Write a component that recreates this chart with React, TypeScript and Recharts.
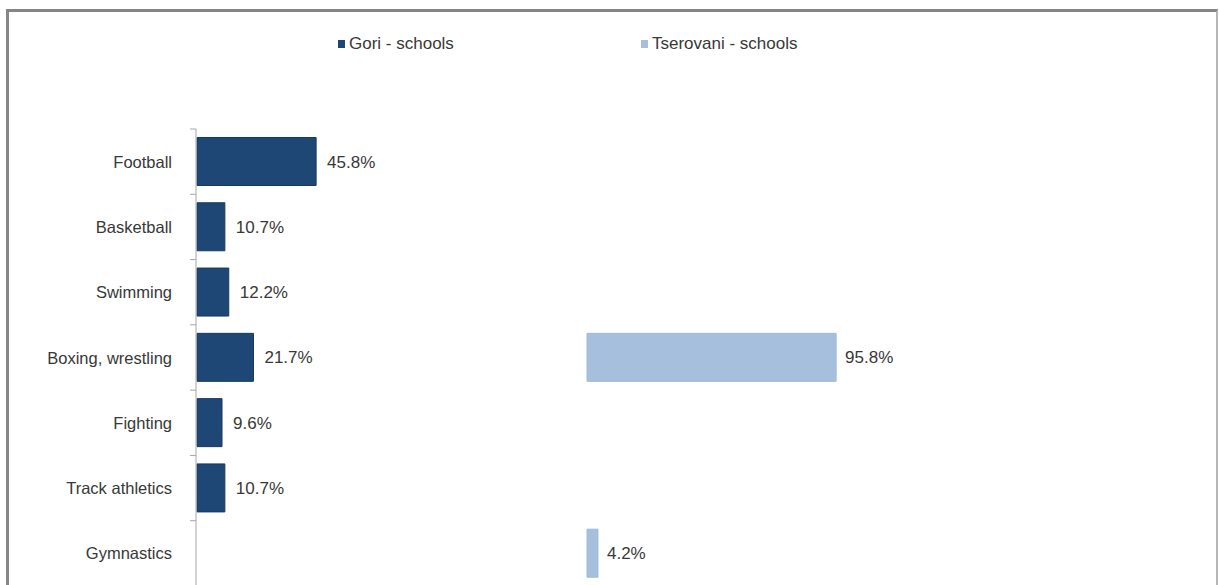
import React from "react";
import { BarChart, Bar, XAxis, YAxis, LabelList } from "recharts";

const categories = [
  "Football",
  "Basketball",
  "Swimming",
  "Boxing, wrestling",
  "Fighting",
  "Track athletics",
  "Gymnastics",
];
const goriValues: (number | null)[] = [45.8, 10.7, 12.2, 21.7, 9.6, 10.7, null];
const tserovaniValues: (number | null)[] = [null, null, null, 95.8, null, null, 4.2];
const seriesNames = ["Gori - schools", "Tserovani - schools"];
const seriesColors = ["#1E4775", "#A5BFDD"];

const data = categories.map((c, i) => ({
  name: c,
  gori: goriValues[i],
  tserovani: tserovaniValues[i],
}));

const FONT = "'Liberation Sans', Arial, sans-serif";
const CHART_W = 1219;
const CHART_H = 600;
const MARGIN = { top: 129, right: 9, bottom: 14, left: 0 };
const BAND = (CHART_H - MARGIN.top - MARGIN.bottom) / categories.length;
const TICK_MARGIN = 24;

const CategoryTick = (props: any) => {
  const { x, y, payload } = props;
  const ax = x + TICK_MARGIN;
  return (
    <g>
      <line x1={ax - 6} x2={ax} y1={y - BAND / 2} y2={y - BAND / 2} stroke="#a6a6a6" strokeWidth={1} />
      <text
        x={x}
        y={y}
        textAnchor="end"
        dominantBaseline="central"
        fontFamily={FONT}
        fontSize={16.5}
        fill="#383838"
      >
        {payload.value}
      </text>
    </g>
  );
};

const fmt = (v: any) => (v == null ? "" : `${Number(v).toFixed(1)}%`);

export default function App() {
  return (
    <div style={{ position: "relative", width: 1219, height: 585, overflow: "hidden", background: "#fff" }}>
      <style>{`html,body{margin:0;padding:0;overflow:hidden;background:#fff}`}</style>
      <div
        style={{
          position: "absolute",
          left: 6,
          top: 9,
          width: 1207,
          height: 600,
          borderTop: "3px solid #858585",
          borderLeft: "3px solid #878787",
          borderRight: "2px solid #b5b5b5",
          boxSizing: "content-box",
        }}
      />
      <div style={{ position: "absolute", left: 0, top: 0 }}>
        <BarChart width={CHART_W} height={CHART_H} data={data} layout="vertical" margin={MARGIN} barCategoryGap="13%">
          <XAxis xAxisId="a" type="number" domain={[-0.4, 389.6]} allowDataOverflow hide />
          <XAxis xAxisId="b" type="number" domain={[-150.4, 239.6]} allowDataOverflow hide />
          <YAxis
            yAxisId="a"
            type="category"
            dataKey="name"
            width={196}
            axisLine={{ stroke: "#a6a6a6" }}
            tickLine={false}
            tickSize={0}
            tickMargin={TICK_MARGIN}
            tick={<CategoryTick />}
            interval={0}
          />
          <YAxis yAxisId="b" type="category" dataKey="name" hide />
          <Bar
            xAxisId="a"
            yAxisId="a"
            dataKey="gori"
            name={seriesNames[0]}
            fill={seriesColors[0]}
            stroke="#18395f"
            strokeWidth={1}
            isAnimationActive={false}
          >
            <LabelList
              dataKey="gori"
              position="right"
              offset={11}
              formatter={fmt}
              fill="#383838"
              fontSize={17}
              fontFamily={FONT}
            />
          </Bar>
          <Bar
            xAxisId="b"
            yAxisId="b"
            dataKey="tserovani"
            name={seriesNames[1]}
            fill={seriesColors[1]}
            stroke="#9db9da"
            strokeWidth={1}
            isAnimationActive={false}
          >
            <LabelList
              dataKey="tserovani"
              position="right"
              offset={9}
              formatter={fmt}
              fill="#383838"
              fontSize={17}
              fontFamily={FONT}
            />
          </Bar>
        </BarChart>
      </div>
      {seriesNames.map((n, i) => (
        <div
          key={n}
          style={{
            position: "absolute",
            left: i === 0 ? 338 : 641,
            top: 34,
            display: "flex",
            alignItems: "center",
            fontFamily: FONT,
            fontSize: 17,
            color: "#383838",
            whiteSpace: "nowrap",
          }}
        >
          <span style={{ display: "inline-block", width: 7, height: 8, background: seriesColors[i], marginRight: 4 }} />
          <span>{n}</span>
        </div>
      ))}
    </div>
  );
}
